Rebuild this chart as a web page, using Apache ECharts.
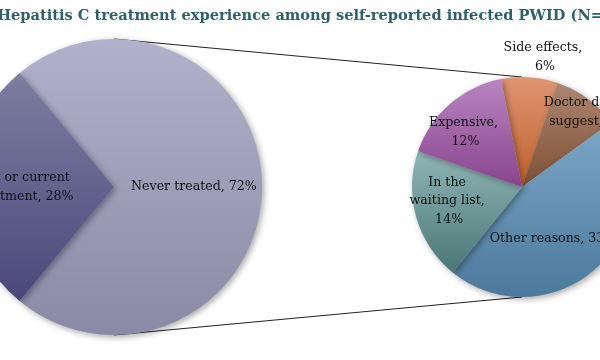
<!DOCTYPE html>
<html>
<head>
<meta charset="utf-8">
<script src="https://cdn.jsdelivr.net/npm/echarts@6/dist/echarts.min.js"></script>
<style>html,body{margin:0;padding:0;background:#fff}#chart{width:600px;height:360px}</style>
</head>
<body>
<div id="chart"></div>
<script>
// ---- data ----
const titleText = 'Hepatitis C treatment experience among self-reported infected PWID (N=';
const mainNames = ['Never treated', 'Past or current treatment'];
const mainValues = [72, 28];
const subNames = ['Side effects', "Doctor didn't suggest", 'Other reasons', 'In the waiting list', 'Expensive'];
const subValues = [6, 7, 33, 14, 12];

// ---- layout / style ----
const mainPie = { cx: 114, cy: 187, r: 148, start: 129.6 };
const subPie = { cx: 522, cy: 187, r: 110, start: 101 };
const mainColors = [['#b1b1cb', '#8a8aa6'], ['#7e7ea2', '#49487a']];
const subColors = [['#de9572', '#c0602c'], ['#ad8670', '#7c5034'], ['#7ca6c6', '#4c7a9c'], ['#90b6b6', '#4a7676'], ['#b985c1', '#88448e']];
const mainLabelPos = [[0.54, 0], [0.61, 0]];
const subLabelPos = [[1.2, -6], [0.905, -5], [0.55, -12.7], [0.675, -5], [0.714, 5]];
const mainLabelWidth = [200, 110];
const subLabelWidth = [90, 90, 150, 80, 80];
const font = 'DejaVu Serif';

function grad(c) {
  return new echarts.graphic.LinearGradient(0, 0, 0, 1, [
    { offset: 0, color: c[0] }, { offset: 1, color: c[1] }
  ]);
}
function buildData(names, values, colors, widths) {
  return names.map((n, i) => ({
    name: n, value: values[i],
    itemStyle: { color: grad(colors[i]) },
    label: { width: widths[i] }
  }));
}
function layoutFn(pie, values, pos) {
  const total = values.reduce((a, b) => a + b, 0);
  return function (params) {
    const i = params.dataIndex;
    let acc = 0;
    for (let k = 0; k < i; k++) acc += values[k];
    const mid = pie.start - (acc + values[i] / 2) / total * 360 + pos[i][1];
    const rad = mid * Math.PI / 180;
    const d = pie.r * pos[i][0];
    return {
      x: pie.cx + d * Math.cos(rad),
      y: pie.cy - d * Math.sin(rad),
      align: 'center',
      verticalAlign: 'middle'
    };
  };
}
function pieSeries(pie, names, values, colors, widths, pos) {
  return {
    type: 'pie',
    center: [pie.cx, pie.cy],
    radius: [0, pie.r],
    startAngle: pie.start,
    clockwise: true,
    animation: false,
    silent: true,
    avoidLabelOverlap: false,
    data: buildData(names, values, colors, widths),
    itemStyle: {
      shadowBlur: 6, shadowOffsetX: 2, shadowOffsetY: 2,
      shadowColor: 'rgba(0,0,0,0.35)'
    },
    label: {
      show: true,
      position: 'inside',
      formatter: p => p.name + ', ' + p.value + '%',
      fontFamily: font,
      fontSize: 12.6,
      lineHeight: 18.5,
      color: '#111',
      overflow: 'break',
      align: 'center'
    },
    labelLine: { show: false },
    labelLayout: layoutFn(pie, values, pos)
  };
}

const chart = echarts.init(document.getElementById('chart'), null, { renderer: 'canvas' });
chart.setOption({
  backgroundColor: '#fff',
  animation: false,
  title: {
    text: titleText,
    right: -3,
    top: 9,
    padding: 0,
    textStyle: { fontFamily: font, fontWeight: 'bold', fontSize: 14.6, color: '#2f5f67' }
  },
  graphic: [
    { type: 'line', z: -10, shape: { x1: mainPie.cx, y1: mainPie.cy - mainPie.r, x2: subPie.cx, y2: subPie.cy - subPie.r }, style: { stroke: '#222', lineWidth: 1 } },
    { type: 'line', z: -10, shape: { x1: mainPie.cx, y1: mainPie.cy + mainPie.r, x2: subPie.cx, y2: subPie.cy + subPie.r }, style: { stroke: '#222', lineWidth: 1 } }
  ],
  series: [
    pieSeries(mainPie, mainNames, mainValues, mainColors, mainLabelWidth, mainLabelPos),
    pieSeries(subPie, subNames, subValues, subColors, subLabelWidth, subLabelPos)
  ]
});
</script>
</body>
</html>
